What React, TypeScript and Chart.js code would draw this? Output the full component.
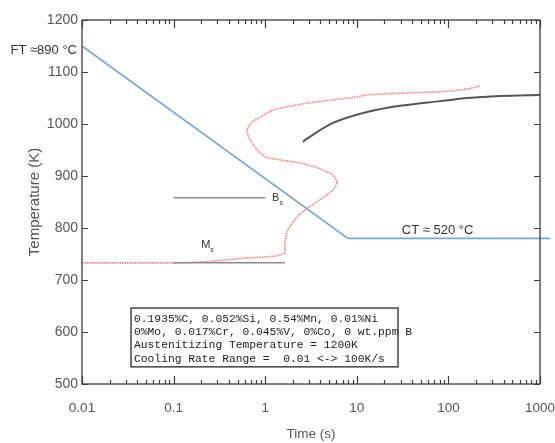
import React, { useEffect, useRef } from 'react';
import { Chart, registerables } from 'chart.js';

Chart.register(...registerables);

// ---- data ----
const xTickValues = [0.01, 0.1, 1, 10, 100, 1000];
const xTickLabels = ['0.01', '0.1', '1', '10', '100', '1000'];
const yTickValues = [500, 600, 700, 800, 900, 1000, 1100, 1200];

// cooling path (blue)
const coolingTime = [0.01, 8, 1290];
const coolingTemp = [1150, 780, 780];

// transformation start curve (pink dotted)
const startTime = [0.01, 0.104, 0.22, 0.6, 1.28, 1.64, 1.64, 1.64, 1.77, 2.22, 2.86, 3.96, 5.5, 6.08, 5.5, 4.73, 3.68, 2.4, 1.45, 1.0, 0.8, 0.66, 0.63, 0.72, 0.88, 1.22, 1.73, 2.86, 5.09, 10, 12.9, 38, 81, 160, 221];
const startTemp = [733, 733, 735, 742, 746, 752, 758, 773, 796, 821, 838, 854, 873, 888, 902, 908, 916, 925, 931, 937, 952, 975, 988, 1004, 1013, 1027, 1033, 1040, 1046, 1052, 1056, 1060, 1062, 1067, 1073];

// black curve
const pearliteTime = [2.59, 2.71, 5.5, 12.9, 29.6, 81, 160, 366, 951, 1000];
const pearliteTemp = [965, 969, 1002, 1023, 1035, 1044, 1050, 1054, 1056, 1056];

// Bs / Ms lines
const bsTime = [0.1, 1.0];
const bsTemp = [858, 858];
const msTime = [0.1, 1.64];
const msTemp = [733, 733];

const ftLabel = 'FT \u2248890 \u00B0C';
const ctLabel = 'CT \u2248 520 \u00B0C';
const infoLines = [
  '0.1935%C, 0.052%Si, 0.54%Mn, 0.01%Ni',
  '0%Mo, 0.017%Cr, 0.045%V, 0%Co, 0 wt.ppm B',
  'Austenitizing Temperature = 1200K',
  'Cooling Rate Range =  0.01 <-> 100K/s',
];

const toPts = (xs: number[], ys: number[]) => xs.map((x, i) => ({ x, y: ys[i] }));

const overlay = {
  id: 'overlay',
  afterDatasetsDraw(chart: any) {
    const { ctx, chartArea: a, scales } = chart;
    const x = scales.x;
    const y = scales.y;
    ctx.save();
    // frame
    ctx.strokeStyle = '#3c3c3c';
    ctx.lineWidth = 1.3;
    ctx.strokeRect(a.left, a.top, a.right - a.left, a.bottom - a.top);
    // y ticks
    ctx.lineWidth = 1.2;
    ctx.beginPath();
    yTickValues.forEach((v) => {
      const py = Math.round(y.getPixelForValue(v)) + 0.5;
      ctx.moveTo(a.left, py);
      ctx.lineTo(a.left + 6, py);
      ctx.moveTo(a.right, py);
      ctx.lineTo(a.right - 6, py);
    });
    // x ticks (log minor/major)
    for (let d = 0.01; d < 999; d *= 10) {
      for (let k = 1; k <= 9; k++) {
        const v = d * k;
        const px = Math.round(x.getPixelForValue(v)) + 0.5;
        const len = k === 1 ? 8 : 4;
        ctx.moveTo(px, a.bottom);
        ctx.lineTo(px, a.bottom - len);
        ctx.moveTo(px, a.top);
        ctx.lineTo(px, a.top + len);
      }
    }
    const pe = Math.round(x.getPixelForValue(1000)) + 0.5;
    ctx.moveTo(pe, a.bottom);
    ctx.lineTo(pe, a.bottom - 8);
    ctx.moveTo(pe, a.top);
    ctx.lineTo(pe, a.top + 8);
    ctx.stroke();

    // FT label
    ctx.fillStyle = '#333';
    ctx.font = '13px "Liberation Sans", Arial, sans-serif';
    ctx.textBaseline = 'middle';
    ctx.textAlign = 'right';
    ctx.fillText(ftLabel, x.getPixelForValue(0.01) - 5, y.getPixelForValue(1142));
    // CT label
    ctx.textAlign = 'left';
    ctx.fillText(ctLabel, x.getPixelForValue(31), y.getPixelForValue(796));

    // Bs, Ms
    const sub = (main: string, s: string, tx: number, ty: number) => {
      const px = x.getPixelForValue(tx);
      const py = y.getPixelForValue(ty);
      ctx.font = '11px "Liberation Sans", Arial, sans-serif';
      ctx.fillStyle = '#333';
      ctx.textAlign = 'left';
      ctx.fillText(main, px, py);
      const w = ctx.measureText(main).width;
      ctx.font = '7px "Liberation Sans", Arial, sans-serif';
      ctx.fillText(s, px + w, py + 5);
    };
    sub('B', 's', 1.19, 858);
    sub('M', 's', 0.2, 767);

    // info box
    const bx0 = x.getPixelForValue(0.0343);
    const bx1 = x.getPixelForValue(28.2);
    const by0 = y.getPixelForValue(646);
    const by1 = y.getPixelForValue(533);
    ctx.fillStyle = '#fff';
    ctx.fillRect(bx0, by0, bx1 - bx0, by1 - by0);
    ctx.font = '11.3px "Liberation Mono", "Courier New", monospace';
    ctx.fillStyle = '#222';
    ctx.textAlign = 'left';
    ctx.textBaseline = 'middle';
    infoLines.forEach((line, i) => {
      ctx.fillText(line, bx0 + 3, by0 + 11 + i * 13.2);
    });
    ctx.strokeStyle = '#444';
    ctx.lineWidth = 1.5;
    ctx.strokeRect(bx0, by0, bx1 - bx0, by1 - by0);
    ctx.restore();
  },
};

export default function App() {
  const ref = useRef<HTMLCanvasElement | null>(null);
  useEffect(() => {
    if (!ref.current) return;
    const tickFont = { family: '"Liberation Sans", Arial, sans-serif', size: 13.5 };
    const chart = new Chart(ref.current, {
      type: 'line',
      data: {
        datasets: [
          {
            data: toPts(msTime, msTemp),
            borderColor: '#8c8c8c',
            borderWidth: 1.5,
            pointRadius: 0,
          },
          {
            data: toPts(bsTime, bsTemp),
            borderColor: '#8c8c8c',
            borderWidth: 1.5,
            pointRadius: 0,
          },
          {
            data: toPts(pearliteTime, pearliteTemp),
            borderColor: '#555555',
            borderWidth: 2,
            pointRadius: 0,
            tension: 0.3,
          },
          {
            data: toPts(startTime, startTemp),
            borderColor: '#ff7a7a',
            borderWidth: 1.6,
            borderDash: [1.5, 1],
            pointRadius: 0,
            tension: 0.2,
          },
          {
            data: toPts(coolingTime, coolingTemp),
            borderColor: '#78a5dc',
            borderWidth: 1.6,
            pointRadius: 0,
            clip: false as any,
          },
        ],
      },
      options: {
        animation: false,
        responsive: false,
        devicePixelRatio: 1,
        layout: { padding: { top: 20, right: 15, left: 0, bottom: 0 } },
        plugins: { legend: { display: false }, tooltip: { enabled: false } },
        scales: {
          x: {
            type: 'logarithmic',
            min: 0.01,
            max: 1000,
            grid: { display: false, drawTicks: false },
            border: { display: false },
            afterBuildTicks: (s: any) => {
              s.ticks = xTickValues.map((v) => ({ value: v }));
            },
            afterFit: (s: any) => {
              s.height = 59;
              s.paddingLeft = 0;
              s.paddingRight = 0;
            },
            ticks: {
              autoSkip: false,
              maxRotation: 0,
              color: '#555',
              font: tickFont,
              padding: 16,
              callback: (_v: any, i: number) => xTickLabels[i],
            },
            title: {
              display: true,
              text: 'Time (s)',
              color: '#555',
              font: { family: '"Liberation Sans", Arial, sans-serif', size: 13.5 },
              padding: { top: 0, bottom: 1 },
            },
          },
          y: {
            type: 'linear',
            min: 500,
            max: 1200,
            grid: { display: false, drawTicks: false },
            border: { display: false },
            afterBuildTicks: (s: any) => {
              s.ticks = yTickValues.map((v) => ({ value: v }));
            },
            afterFit: (s: any) => {
              s.width = 82;
              s.paddingTop = 0;
              s.paddingBottom = 0;
            },
            ticks: {
              color: '#555',
              font: { family: '"Liberation Sans", Arial, sans-serif', size: 14 },
              padding: 4,
              callback: (v: any) => String(v),
            },
            title: {
              display: true,
              text: 'Temperature (K)',
              color: '#555',
              font: { family: '"Liberation Sans", Arial, sans-serif', size: 15 },
              padding: { top: 26, bottom: 0 },
            },
          },
        },
      },
      plugins: [overlay],
    } as any);
    return () => chart.destroy();
  }, []);
  return (
    <div style={{ position: 'absolute', left: 0, top: 0, width: 555, height: 443, background: '#fff' }}>
      <canvas ref={ref} width={555} height={443} style={{ display: 'block' }} />
    </div>
  );
}
